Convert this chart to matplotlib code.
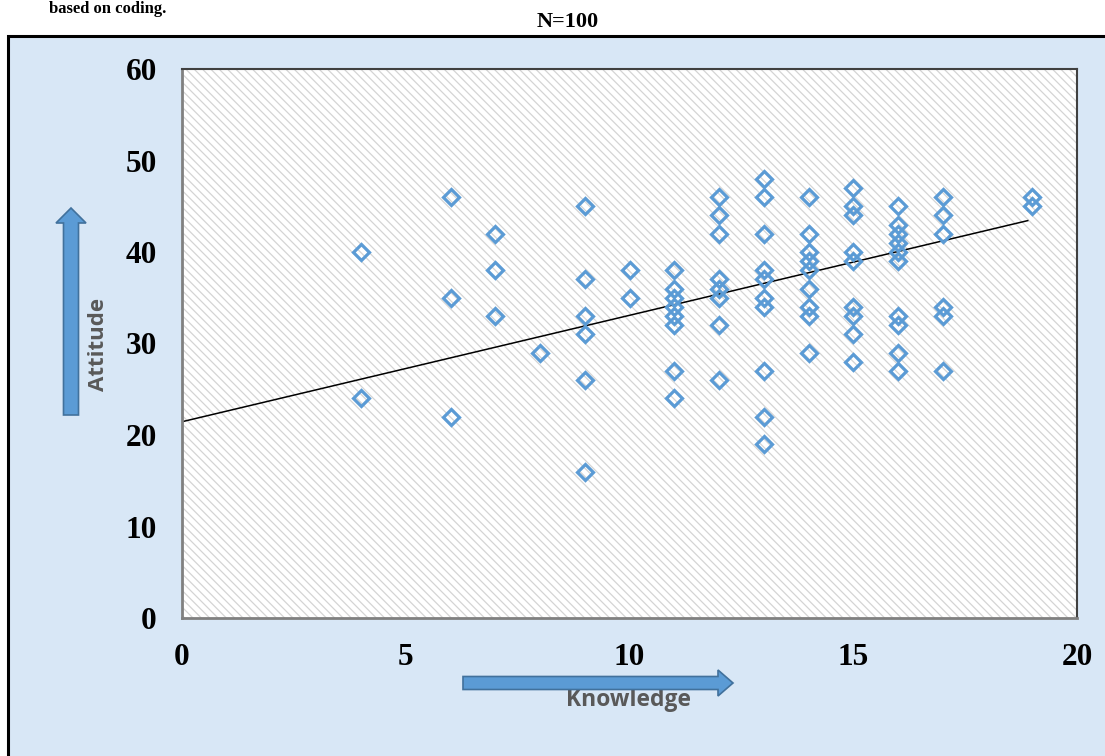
import matplotlib
matplotlib.use('Agg')
import matplotlib.pyplot as plt
from matplotlib.patches import Rectangle, FancyArrow
from matplotlib.transforms import IdentityTransform

# scores (overlapping points show only once)
knowledge = [4, 4,
             6, 6, 6,
             7, 7, 7,
             8,
             9, 9, 9, 9, 9, 9,
             10, 10,
             11, 11, 11, 11, 11, 11, 11, 11,
             12, 12, 12, 12, 12, 12, 12, 12,
             13, 13, 13, 13, 13, 13, 13, 13, 13, 13,
             14, 14, 14, 14, 14, 14, 14, 14, 14,
             15, 15, 15, 15, 15, 15, 15, 15, 15,
             16, 16, 16, 16, 16, 16, 16, 16, 16, 16,
             17, 17, 17, 17, 17, 17,
             19, 19]
attitude = [40, 24,
            46, 35, 22,
            42, 38, 33,
            29,
            45, 37, 33, 31, 26, 16,
            38, 35,
            38, 36, 35, 34, 33, 32, 27, 24,
            46, 44, 42, 37, 36, 35, 32, 26,
            48, 46, 42, 38, 37, 35, 34, 27, 22, 19,
            46, 42, 40, 39, 38, 36, 34, 33, 29,
            47, 45, 44, 40, 39, 34, 33, 31, 28,
            45, 43, 42, 41, 40, 39, 33, 32, 29, 27,
            46, 44, 42, 34, 33, 27,
            46, 45]

# linear trendline as drawn on the chart
trend_intercept = 21.45
trend_slope = 1.163
trend_x = [0, 18.9]

x_ticks = [0, 5, 10, 15, 20]
y_ticks = [0, 10, 20, 30, 40, 50, 60]

W, H = 1105, 756
plt.rcParams['hatch.linewidth'] = 0.9
fig = plt.figure(figsize=(W / 100, H / 100), dpi=100)
fig.patch.set_facecolor('white')
px = IdentityTransform()

# outer chart frame with light blue fill
fig.add_artist(Rectangle((8, -20), 1200, H - 36 + 20, transform=px,
                         facecolor='#d8e7f6', edgecolor='black', lw=2.2, zorder=0))

ax = fig.add_axes([182 / W, 1 - 618 / H, (1077 - 182) / W, (618 - 69) / H])
ax.set_facecolor('white')
ax.add_patch(Rectangle((0, 0), 1, 1, transform=ax.transAxes, facecolor='none',
                       edgecolor='#d4d4d4', hatch='\\\\\\\\', lw=0, zorder=0))

ax.plot(knowledge, attitude, linestyle='none', marker='D', markersize=8.5,
        markerfacecolor='none', markeredgecolor='#5b9bd5', markeredgewidth=2.3,
        zorder=3)
trend_y = [trend_intercept + trend_slope * v for v in trend_x]
ax.plot(trend_x, trend_y, color='black', lw=1.1, zorder=2)

ax.set_xlim(0, 20)
ax.set_ylim(0, 60)
ax.set_xticks(x_ticks)
ax.set_yticks(y_ticks)
ax.tick_params(length=0, pad=18)
for lab in ax.get_xticklabels() + ax.get_yticklabels():
    lab.set_fontfamily('Liberation Serif')
    lab.set_fontweight('bold')
    lab.set_fontsize(22.5)
for s in ax.spines.values():
    s.set_color('#404040')
    s.set_linewidth(1.5)
ax.spines['left'].set_color('#808080')
ax.spines['bottom'].set_color('#808080')
ax.spines['left'].set_linewidth(2)
ax.spines['bottom'].set_linewidth(2)

# title and caption at the top
fig.text(568 / W, 1 - 22 / H, 'N=100', ha='center', va='center',
         fontfamily='Liberation Serif', fontweight='bold', fontsize=16)
fig.text(166 / W, 1 - 1 / H, 'based on coding.', ha='right', va='top',
         fontfamily='Liberation Serif', fontweight='bold', fontsize=12)

# block arrows with axis labels
arrow_kw = dict(transform=px, facecolor='#5b9bd5', edgecolor='#41719c', lw=1.2,
                length_includes_head=True, zorder=5)
fig.add_artist(FancyArrow(463, H - 683, 733 - 463, 0, width=13, head_width=26,
                          head_length=15, **arrow_kw))
fig.add_artist(FancyArrow(71, H - 415, 0, 415 - 208, width=15, head_width=30,
                          head_length=15, **arrow_kw))

fig.text(629 / W, 1 - 700 / H, 'Knowledge', ha='center', va='center',
         fontfamily='Open Sans', fontweight='bold', fontsize=16.5, color='#595959')
fig.text(98 / W, 1 - 344 / H, 'Attitude', ha='center', va='center', rotation=90,
         fontfamily='Open Sans', fontweight='bold', fontsize=16, color='#595959')

fig.savefig('out.png', dpi=100)
